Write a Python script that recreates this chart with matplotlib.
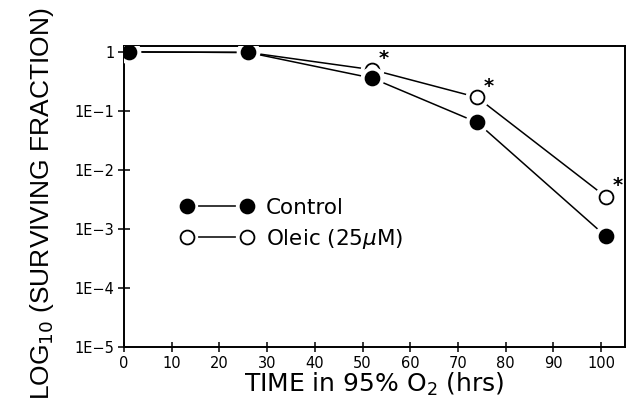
import matplotlib
matplotlib.use('Agg')
import matplotlib.pyplot as plt
from matplotlib.lines import Line2D

# data
hours = [1, 26, 52, 74, 101]
control = [1.0, 0.98, 0.36, 0.064, 7.5e-4]
oleic = [1.0, 0.98, 0.50, 0.17, 3.5e-3]
starred = [2, 3, 4]  # oleic points marked with *

x_ticks = [0, 10, 20, 30, 40, 50, 60, 70, 80, 90, 100]
y_ticks = [1e-5, 1e-4, 1e-3, 1e-2, 1e-1, 1]
y_tick_labels = ['1E\u22125', '1E\u22124', '1E\u22123', '1E\u22122', '1E\u22121', '1']

plt.rcParams['font.family'] = ['DejaVu Sans']
plt.rcParams['mathtext.fontset'] = 'dejavusans'
plt.rcParams['lines.scale_dashes'] = False


def series(ax, y, face, z):
    # line, then white ring to leave a gap, then the marker itself
    ax.plot(hours, y, color='black', lw=1.1, zorder=z)
    ax.plot(hours, y, ls='none', marker='o', ms=16, mfc='white', mec='white', zorder=z + 1)
    ax.plot(hours, y, ls='none', marker='o', ms=10, mfc=face, mec='black', mew=1.3, zorder=z + 2)


def legend_handle(face):
    # line with a gap before and after the two markers
    ln_len = 43.2
    gap = 8.0
    on = ln_len - 2 * gap
    off = 100.0
    return Line2D([], [], color='black', lw=1.1, ls=(on + off - gap, (on, off)),
                  marker='o', ms=10, mfc=face, mec='black', mew=1.3)


fig = plt.figure(figsize=(6.33, 4.11), dpi=100)
ax = fig.add_axes([124 / 633, 1 - 347 / 411, (625 - 124) / 633, (347 - 46) / 411])
ax.set_yscale('log')

series(ax, oleic, 'white', 2)
series(ax, control, 'black', 5)

for i in starred:
    ax.annotate('*', (hours[i], oleic[i]), xytext=(5, 1), textcoords='offset points',
                fontsize=14, fontweight='bold', ha='left', va='bottom')

ax.set_xlim(0, 105)
ax.set_ylim(1e-5, 1.26)
ax.set_xticks(x_ticks)
ax.set_xticklabels([str(t) for t in x_ticks])
ax.set_yticks(y_ticks)
ax.set_yticklabels(y_tick_labels)
ax.minorticks_off()
ax.tick_params(direction='inout', width=1.1, labelsize=10.5)
ax.tick_params(axis='y', length=8, pad=3)
ax.tick_params(axis='x', length=7, pad=3)
for s in ax.spines.values():
    s.set_linewidth(1.4)

ax.set_xlabel('TIME in 95% O$_2$ (hrs)', fontsize=18, labelpad=0)
ax.set_ylabel('LOG$_{10}$ (SURVIVING FRACTION)', fontsize=19, family='Liberation Sans')
ax.yaxis.set_label_coords(-0.136, 0.475)

leg = ax.legend([legend_handle('black'), legend_handle('white')],
                ['Control', r'Oleic (25$\mu$M)'],
                numpoints=2, handlelength=3.39, frameon=False, fontsize=15.5,
                loc='center left', bbox_to_anchor=(0.113, 0.407),
                borderaxespad=0, borderpad=0, labelspacing=0.42, handletextpad=0.58)

fig.savefig('out.png', dpi=100)
